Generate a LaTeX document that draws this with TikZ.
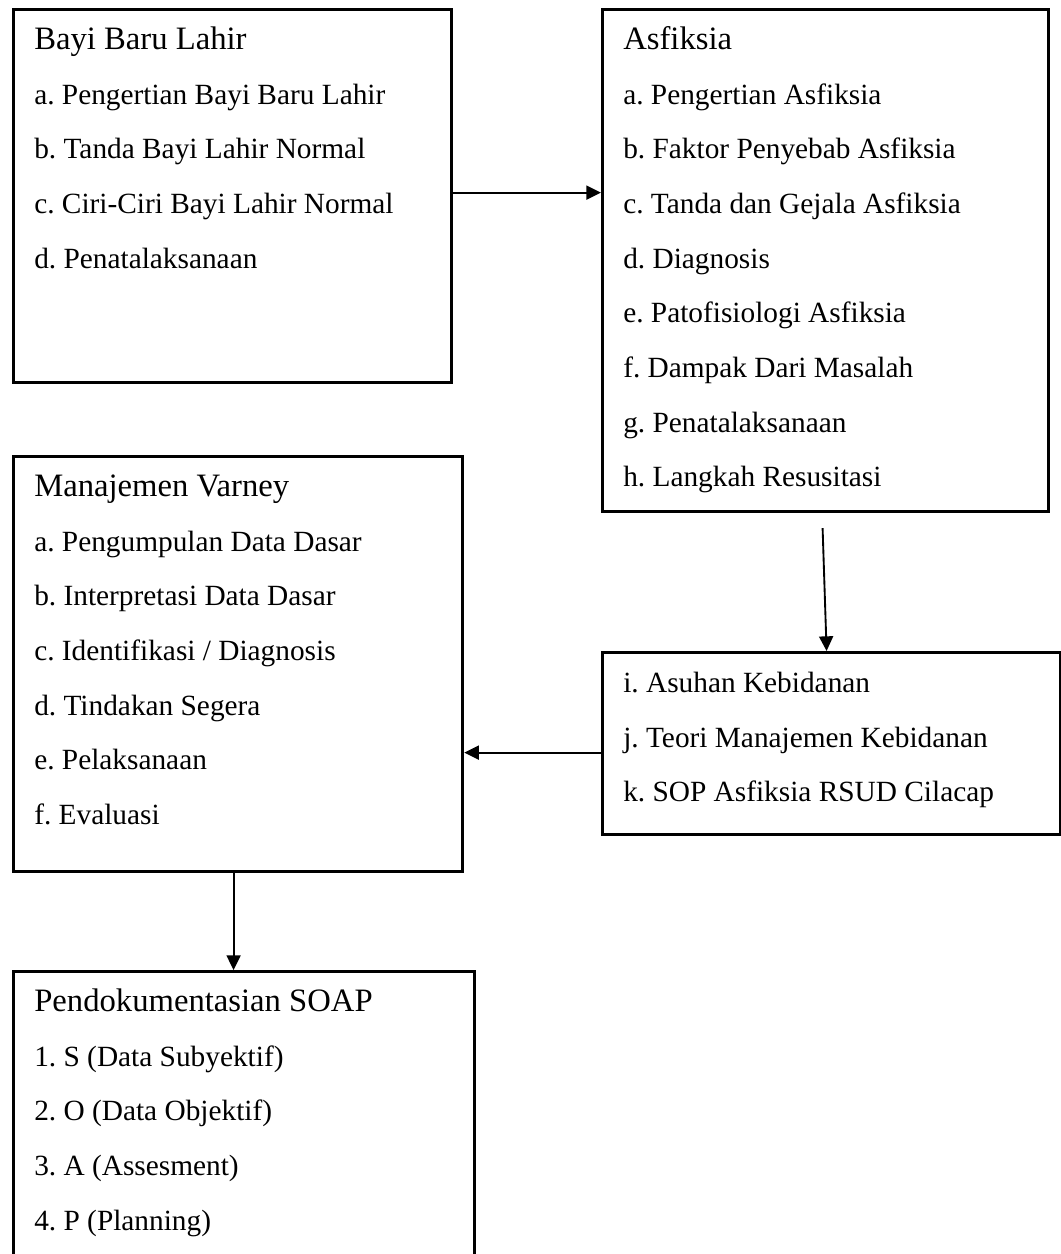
\documentclass[tikz,border=0pt]{standalone}
\usepackage{fontspec}
\setmainfont{Liberation Serif}
\usetikzlibrary{arrows.meta}

\newcommand{\boxlist}[3]{%
  \begin{minipage}[t][#2][t]{#1}\raggedright\frenchspacing
  \fontsize{22}{41}\selectfont\rule{0pt}{30pt}#3\end{minipage}}
\newcommand{\boxhead}[1]{{\fontsize{24.5}{41}\selectfont #1}}

\tikzset{
  listbox/.style={draw, line width=2.4pt, anchor=north west, inner xsep=15.5pt, inner ysep=0pt},
  flow/.style={line width=1.4pt, -{Triangle[length=11pt,width=10.5pt]}}
}

\begin{document}
\begin{tikzpicture}[x=0.75pt,y=0.75pt,yscale=-1,xscale=1]
\clip (0,0) rectangle (1061,1254);

%Shape: Box [id:bbl]
\node[listbox] (bbl) at (12,8) {\boxlist{297.5pt}{279.75pt}{\boxhead{Bayi Baru Lahir}\\
a. Pengertian Bayi Baru Lahir\\
b. Tanda Bayi Lahir Normal\\
c. Ciri-Ciri Bayi Lahir Normal\\
d. Penatalaksanaan}};
%Shape: Box [id:asf]
\node[listbox] (asf) at (601,8) {\boxlist{303.5pt}{376.5pt}{\boxhead{Asfiksia}\\
a. Pengertian Asfiksia\\
b. Faktor Penyebab Asfiksia\\
c. Tanda dan Gejala Asfiksia\\
d. Diagnosis\\
e. Patofisiologi Asfiksia\\
f. Dampak Dari Masalah\\
g. Penatalaksanaan\\
h. Langkah Resusitasi}};
%Shape: Box [id:mv]
\node[listbox] (mv) at (12,455) {\boxlist{305.75pt}{311.25pt}{\boxhead{Manajemen Varney}\\
a. Pengumpulan Data Dasar\\
b. Interpretasi Data Dasar\\
c. Identifikasi / Diagnosis\\
d. Tindakan Segera\\
e. Pelaksanaan\\
f. Evaluasi}};
%Shape: Box [id:asuh]
\node[listbox] (asuh) at (601,651) {\boxlist{312.5pt}{136.5pt}{i. Asuhan Kebidanan\\
j. Teori Manajemen Kebidanan\\
k. SOP Asfiksia RSUD Cilacap}};
%Shape: Box [id:soap]
\node[listbox] (soap) at (12,970) {\boxlist{314.75pt}{247.5pt}{\boxhead{Pendokumentasian SOAP}\\
1. S (Data Subyektif)\\
2. O (Data Objektif)\\
3. A (Assesment)\\
4. P (Planning)}};

%Straight Lines
\draw[flow] ([yshift=-2.6pt]bbl.east) -- ([yshift=-2.6pt]bbl.east -| asf.west);
%Straight Lines
\draw[flow] ([xshift=-2.25pt,yshift=11.25pt]asf.south) -- ([xshift=-3.75pt]asuh.north);
%Straight Lines
\draw[flow] ([yshift=6.75pt]asuh.west) -- ([yshift=6.75pt]asuh.west -| mv.east);
%Straight Lines
\draw[flow] ([xshift=-3.4pt]mv.south) -- ([xshift=-3.4pt]mv.south |- soap.north);

\end{tikzpicture}
\end{document}
